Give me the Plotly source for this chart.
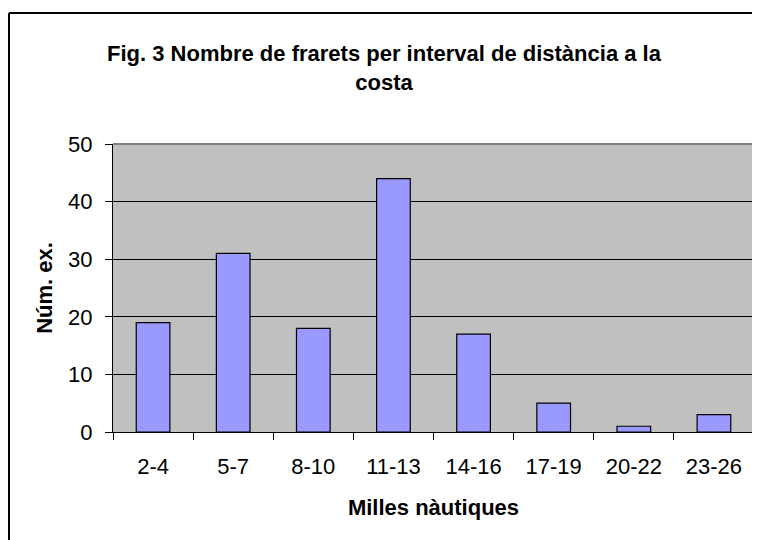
import plotly.graph_objects as go

categories = ["2-4", "5-7", "8-10", "11-13", "14-16", "17-19", "20-22", "23-26"]
values = [19, 31, 18, 44, 17, 5, 1, 3]
y_ticks = [0, 10, 20, 30, 40, 50]

FONT = "Liberation Sans, Arial, sans-serif"
FS = 22

# figure is offset by the 8px default body margin of the page
W, H = 752, 532
L, R, T, B = 105, 6, 136, 108
pw = W - L - R
ph = H - T - B


def px_x(x):
    return (x - L) / pw


def px_y(y):
    return (H - B - y) / ph


fig = go.Figure()
fig.add_trace(go.Bar(
    x=categories, y=values,
    marker=dict(color="#9999FF", line=dict(color="black", width=1.2)),
    width=0.42,
))

fig.update_layout(
    width=W, height=H,
    margin=dict(l=L, r=R, t=T, b=B),
    paper_bgcolor="white",
    plot_bgcolor="#C0C0C0",
    showlegend=False,
    font=dict(family=FONT, size=FS, color="black"),
    title=dict(
        text="<b>Fig. 3 Nombre de frarets per interval de distància a la<br>costa</b>",
        x=0.5, xref="container", xanchor="center",
        y=1 - 53 / H, yanchor="top",
        font=dict(family=FONT, size=FS, color="black"),
    ),
    xaxis=dict(
        type="category",
        tickson="boundaries",
        ticks="outside", ticklen=7, tickcolor="black", tickwidth=1,
        showline=True, linecolor="black", linewidth=1,
        showgrid=False,
        tickfont=dict(size=FS),
        ticklabelstandoff=15,
        title=dict(text="<b>Milles nàutiques</b>", font=dict(size=FS), standoff=21),
        range=[-0.5, 7.5],
    ),
    yaxis=dict(
        range=[0, 50],
        tickvals=y_ticks,
        ticks="outside", ticklen=7, tickcolor="black", tickwidth=1,
        showline=True, linecolor="black", linewidth=1,
        showgrid=True, gridcolor="black", gridwidth=1,
        zeroline=False,
        tickfont=dict(size=FS),
        ticklabelstandoff=8,
        title=dict(text="<b>Núm. ex.</b>", font=dict(size=FS), standoff=9),
    ),
    shapes=[
        # plot area gray border (top & right)
        dict(type="line", xref="paper", yref="paper", x0=0, x1=1, y0=1, y1=1,
             line=dict(color="#808080", width=2)),
        dict(type="line", xref="paper", yref="paper", x0=1, x1=1, y0=0, y1=1,
             line=dict(color="#808080", width=2)),
        # outer chart border (left & top visible)
        dict(type="line", xref="paper", yref="paper",
             x0=px_x(1), x1=px_x(1), y0=px_y(560), y1=px_y(5),
             line=dict(color="black", width=2)),
        dict(type="line", xref="paper", yref="paper",
             x0=px_x(1), x1=px_x(780), y0=px_y(5), y1=px_y(5),
             line=dict(color="black", width=2)),
    ],
)

fig.write_html("out.html")
